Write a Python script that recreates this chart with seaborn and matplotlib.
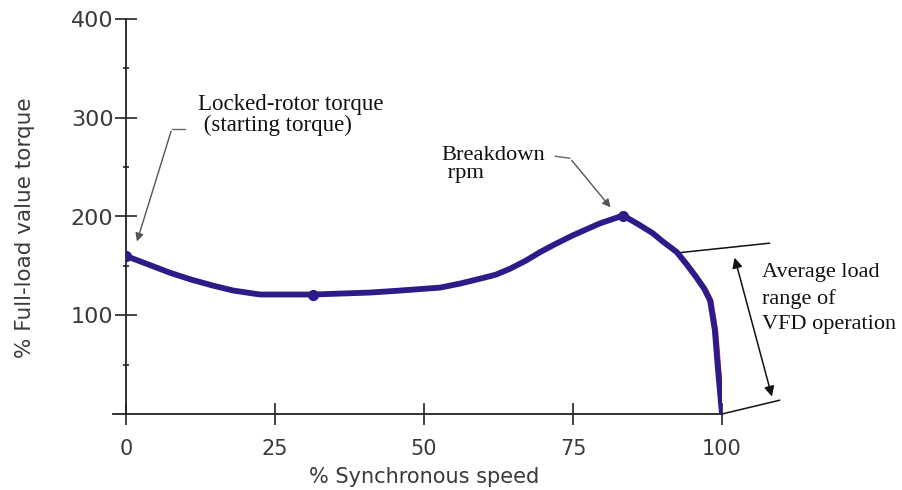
import numpy as np
import pandas as pd
import matplotlib
matplotlib.use("Agg")
import matplotlib.pyplot as plt
import seaborn as sns

# torque-speed curve
speed = [0, 3.5, 7.4, 11, 14.6, 18, 22.5, 31.4, 41, 46, 52.7, 56, 59.4, 62,
         64.4, 67, 69.5, 72, 75, 79.5, 83.4, 86, 88.4, 90, 92.4, 94, 95.5,
         97, 98, 98.8, 99.3, 100]
torque = [160, 152, 143, 136, 130, 125, 121, 121, 123, 125, 128, 132, 137,
          141, 147, 155, 164, 172, 181, 193, 201, 192, 183, 175, 164, 152,
          140, 127, 115, 85, 47, 0]
marker_speed = [0, 31.4, 83.4]
marker_torque = [160, 121, 201]

x_ticks = [0, 25, 50, 75, 100]
y_ticks = [100, 200, 300, 400]
y_minor = [50, 150, 250, 350]

LINE_COLOR = "#2f1a8a"
TEXT_GRAY = "#3a3a3a"
SERIF = "Liberation Serif"

sns.set_style("ticks")
plt.rcParams['font.family'] = ['DejaVu Sans']

fig = plt.figure(figsize=(9.02, 4.9), dpi=100)
ax = fig.add_axes([126/902, 1 - 414/490, (722 - 126)/902, (414 - 19)/490])

df = pd.DataFrame({'speed': speed, 'torque': torque})
# faint red trace under the tail like in the scan
ax.plot(np.array(speed[-8:]) + 0.35, torque[-8:], color="#d9403a", lw=1.8, zorder=2)
sns.lineplot(data=df, x='speed', y='torque', sort=False, color=LINE_COLOR,
             lw=4.2, ax=ax, zorder=3, solid_joinstyle='round', solid_capstyle='round')
ax.plot(marker_speed, marker_torque, 'o', color=LINE_COLOR, ms=7, zorder=4)

ax.set_xlim(0, 100)
ax.set_ylim(0, 400)
ax.set_xticks(x_ticks)
ax.set_yticks(y_ticks)
ax.set_yticks(y_minor, minor=True)
ax.tick_params(axis='both', which='major', direction='inout', length=16, width=1.2,
               color="#222222", labelcolor=TEXT_GRAY)
ax.tick_params(axis='y', which='major', labelsize=16, pad=1)
ax.tick_params(axis='x', which='major', labelsize=15, pad=10)
ax.tick_params(axis='y', which='minor', direction='inout', length=5, width=1.2,
               color="#222222")
for s in ['top', 'right']:
    ax.spines[s].set_visible(False)
for s in ['left', 'bottom']:
    ax.spines[s].set_color("#222222")
    ax.spines[s].set_linewidth(1.3)
ax.spines['bottom'].set_bounds(-2.2, 100)
ax.set_xlabel("% Synchronous speed", fontsize=15, color=TEXT_GRAY)
ax.set_ylabel("% Full-load value torque", fontsize=15.5, color=TEXT_GRAY)
ax.xaxis.set_label_coords(0.5, -0.135)
ax.yaxis.set_label_coords(-0.153, 0.471)

# annotations
ax.text(12.1, 303, "Locked-rotor torque\n (starting torque)", family=SERIF,
        fontsize=16.5, color="#111111", va='center', ha='left', linespacing=1.0)
ax.plot([9.9, 7.7], [289, 289], color="#666666", lw=1.0, clip_on=False)
ax.annotate("", xy=(1.7, 172), xytext=(7.7, 289),
            arrowprops=dict(arrowstyle="-|>", color="#555555", lw=1.0,
                            mutation_scale=12))

ax.text(53.0, 253, "Breakdown\n rpm", family=SERIF, fontsize=16.2, color="#111111",
        va='center', ha='left', linespacing=0.95)
ax.plot([72.0, 74.5], [261, 259], color="#666666", lw=1.0)
ax.annotate("", xy=(81.6, 207), xytext=(74.5, 259),
            arrowprops=dict(arrowstyle="-|>", color="#555555", lw=1.0,
                            mutation_scale=12))

# VFD operating range bracket
ax.plot([92.3, 108.0], [163, 173], color="#111111", lw=1.1, clip_on=False)
ax.plot([100.0, 109.7], [0, 14], color="#111111", lw=1.1, clip_on=False)
ax.annotate("", xy=(102.0, 161), xytext=(108.5, 15),
            arrowprops=dict(arrowstyle="<|-|>", color="#111111", lw=1.1,
                            mutation_scale=15), annotation_clip=False)
ax.text(106.7, 117, "Average load\nrange of\nVFD operation", family=SERIF,
        fontsize=16, color="#111111", va='center', ha='left', linespacing=1.45)

fig.savefig("out.png", dpi=100)
